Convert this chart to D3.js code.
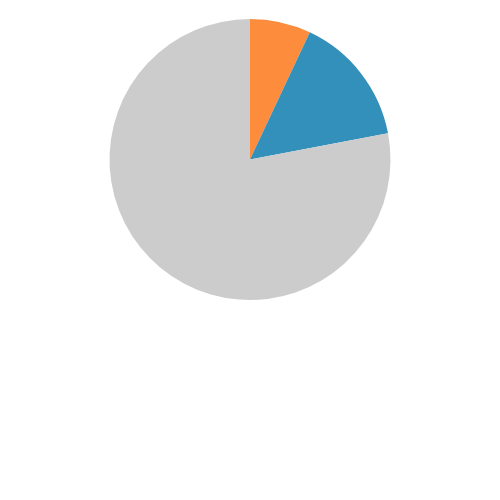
<!DOCTYPE html>
<html>
<head>
<meta charset="utf-8">
<script src="https://cdn.jsdelivr.net/npm/d3@7"></script>
<style>
html, body { margin: 0; padding: 0; background: #ffffff; }
svg { display: block; }
</style>
</head>
<body>
<svg id="chart" width="500" height="500"></svg>
<script>
const categories = ["A", "B", "C"];
const values = [7, 15, 78];
const colors = ["#fd8d3c", "#3290bb", "#cccccc"];

const svg = d3.select("#chart");
const cx = 250, cy = 159.5, radius = 140.5;

const data = categories.map((c, i) => ({ category: c, value: values[i] }));
const color = d3.scaleOrdinal().domain(categories).range(colors);

const pie = d3.pie().value(d => d.value).sort(null);
const arc = d3.arc().innerRadius(0).outerRadius(radius);

const g = svg.append("g").attr("transform", `translate(${cx},${cy})`);
g.selectAll("path")
  .data(pie(data))
  .join("path")
  .attr("d", arc)
  .attr("fill", d => color(d.data.category));
</script>
</body>
</html>
